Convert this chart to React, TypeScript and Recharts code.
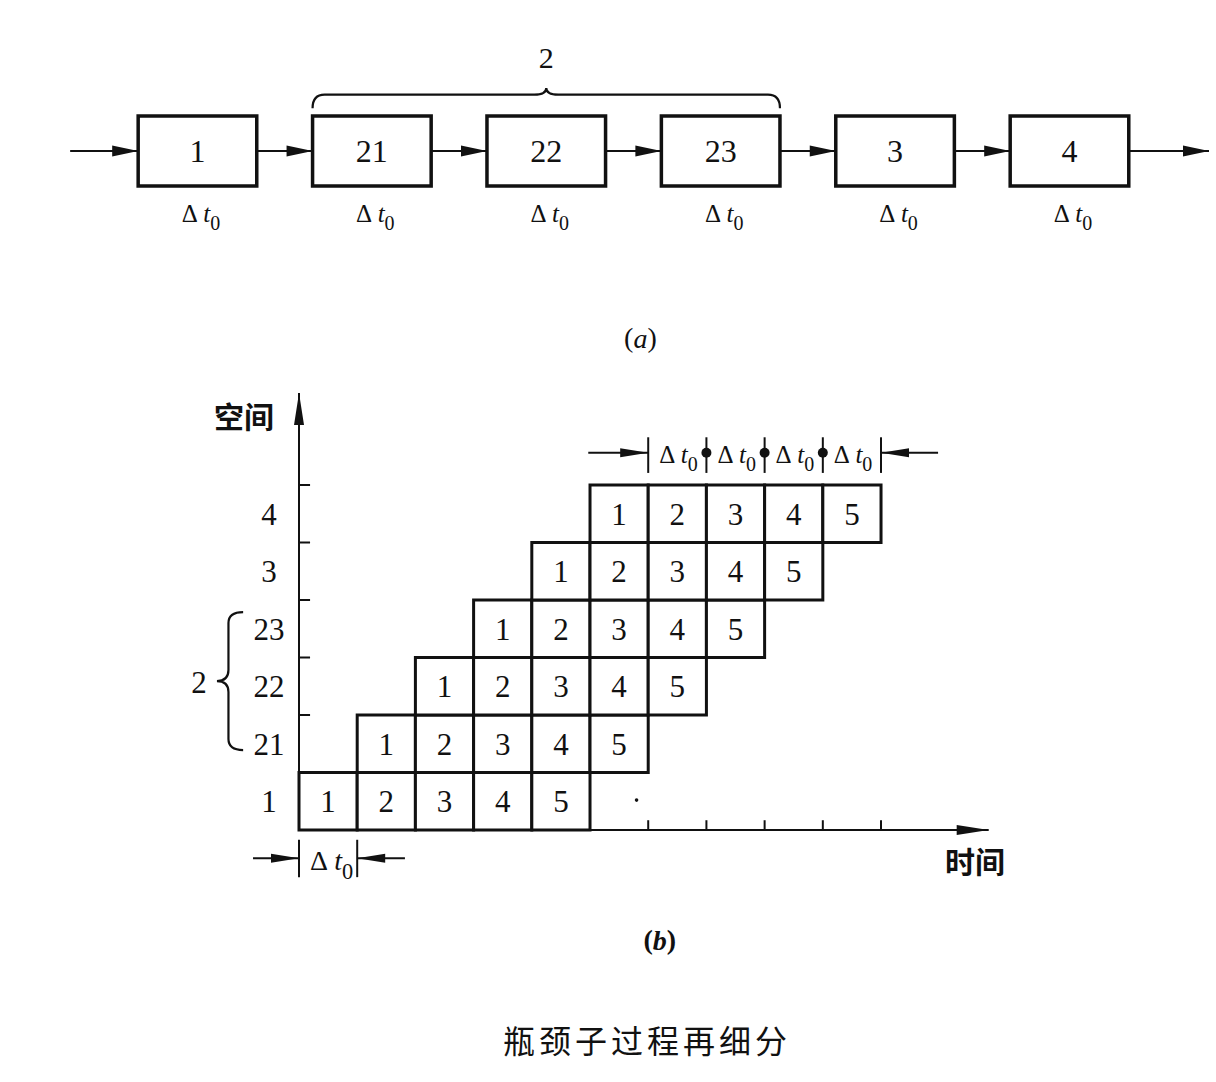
import {
  ComposedChart,
  ReferenceArea,
  ReferenceDot,
  ReferenceLine,
  Scatter,
  XAxis,
  YAxis,
} from "recharts";

const INK = "#111";
const SERIF = '"Liberation Serif", "DejaVu Serif", serif';
const CJK = '"Noto Sans CJK SC", "Noto Sans CJK JP", sans-serif';

// (a) process chain: each box takes one Δt0
const STAGES = ["1", "21", "22", "23", "3", "4"];
const SPLIT_LABEL = "2";
const SPLIT_STAGES = ["21", "22", "23"];

// (b) space-time grid
const ROWS = ["1", "21", "22", "23", "3", "4"];
const ENTRY_SLOT = [0, 1, 2, 3, 4, 5]; // slot where job 1 enters each row
const JOBS = [1, 2, 3, 4, 5];
const OUTPUT_SLOTS = [6, 7, 8, 9, 10]; // completions, ticked on the time axis
const STRAY = [{ x: 5.8, y: 0.52 }];

const STAGE_POINTS = STAGES.map((stage, i) => ({ x: i, y: 0, stage }));
const CELLS = ROWS.flatMap((_, r) =>
  JOBS.map((job, j) => ({ row: r, col: ENTRY_SLOT[r] + j, job }))
);

const HALF_BOX = 0.34;

function Head(p: any) {
  const { cx, cy, dir = "right", len = 26, half = 5.5 } = p;
  let d = "";
  if (dir === "right") d = `M${cx},${cy} L${cx - len},${cy - half} L${cx - len},${cy + half} Z`;
  if (dir === "left") d = `M${cx},${cy} L${cx + len},${cy - half} L${cx + len},${cy + half} Z`;
  if (dir === "up") d = `M${cx},${cy} L${cx - half},${cy + len} L${cx + half},${cy + len} Z`;
  return <path d={d} fill={INK} stroke="none" />;
}

function TextMark(p: any) {
  const { cx, cy, text, size = 30, family = SERIF, weight = 400, spacing = 0 } = p;
  return (
    <text
      x={cx}
      y={cy}
      textAnchor="middle"
      dominantBaseline="central"
      fontFamily={family}
      fontSize={size}
      fontWeight={weight}
      letterSpacing={spacing}
      fill={INK}
    >
      {text}
    </text>
  );
}

function StageLabel(p: any) {
  return <TextMark cx={p.cx} cy={p.cy} text={p.payload?.stage} size={32} />;
}

function PanelTag(p: any) {
  const { cx, cy, letter, weight = 400 } = p;
  return (
    <text x={cx} y={cy} textAnchor="middle" dominantBaseline="central" fontFamily={SERIF} fontSize={28} fontWeight={weight} fill={INK}>
      (<tspan fontStyle="italic">{letter}</tspan>)
    </text>
  );
}

function DeltaMark(p: any) {
  const { cx, cy, size = 24 } = p;
  return (
    <text x={cx} y={cy} textAnchor="middle" fontFamily={SERIF} fontSize={size} fill={INK}>
      Δ
      <tspan dx={size * 0.22} fontStyle="italic">t</tspan>
      <tspan dy={size * 0.32} fontSize={size * 0.8}>0</tspan>
    </text>
  );
}

function HBrace(p: any) {
  const { x, y, width: w, height: h } = p;
  const sy = y + h * 0.33;
  const mid = x + w / 2;
  const r = 12;
  const d = `M${x},${y + h} Q${x},${sy} ${x + r},${sy} L${mid - r},${sy} Q${mid},${sy} ${mid},${y} Q${mid},${sy} ${mid + r},${sy} L${x + w - r},${sy} Q${x + w},${sy} ${x + w},${y + h}`;
  return <path d={d} fill="none" stroke={INK} strokeWidth={2.2} />;
}

function VBrace(p: any) {
  const { x, y, width: w, height: h } = p;
  const sx = x + w * 0.44;
  const mid = y + h / 2;
  const r = 11;
  const d = `M${x + w},${y} Q${sx},${y} ${sx},${y + r} L${sx},${mid - r} Q${sx},${mid} ${x},${mid} Q${sx},${mid} ${sx},${mid + r} L${sx},${y + h - r} Q${sx},${y + h} ${x + w},${y + h}`;
  return <path d={d} fill="none" stroke={INK} strokeWidth={2.2} />;
}

function RowTick(p: any) {
  const { x, y, payload } = p;
  return (
    <text x={x - 30} y={y} dy="0.35em" textAnchor="middle" fontFamily={SERIF} fontSize={31} fill={INK}>
      {ROWS[Math.floor(payload.value)]}
    </text>
  );
}

const line = { stroke: INK, strokeWidth: 2 };

function Arrow({ from, to, y, dir, len, half }: any) {
  return [
    <ReferenceLine key="l" segment={[{ x: from, y }, { x: to, y }]} {...line} ifOverflow="visible" />,
    <ReferenceDot key="h" x={to} y={y} ifOverflow="visible" shape={<Head dir={dir} len={len} half={half} />} />,
  ];
}

function ChainChart() {
  const links = [
    { from: -0.73, to: -HALF_BOX },
    ...STAGES.slice(1).map((_, i) => ({ from: i + HALF_BOX, to: i + 1 - HALF_BOX })),
    { from: STAGES.length - 1 + HALF_BOX, to: 5.8 },
  ];
  const first = STAGES.indexOf(SPLIT_STAGES[0]);
  const last = STAGES.indexOf(SPLIT_STAGES[SPLIT_STAGES.length - 1]);
  return (
    <ComposedChart width={1216} height={380} margin={{ top: 11, right: 7, bottom: 19, left: 40.5 }}>
      <XAxis type="number" dataKey="x" domain={[-0.9, 5.8]} hide />
      <YAxis type="number" dataKey="y" domain={[-3, 2]} hide />
      {STAGES.map((s, i) => (
        <ReferenceArea
          key={s}
          x1={i - HALF_BOX}
          x2={i + HALF_BOX}
          y1={-0.5}
          y2={0.5}
          fill="none"
          fillOpacity={0}
          stroke={INK}
          strokeWidth={3.5}
        />
      ))}
      <Scatter data={STAGE_POINTS} isAnimationActive={false} shape={<StageLabel />} />
      {links.map((l, i) => Arrow({ ...l, y: 0, dir: "right", len: 26, half: 5.5 }).map((el) => ({ ...el, key: `a${i}${el.key}` })))}
      {STAGES.map((s, i) => (
        <ReferenceDot key={`dt${s}`} x={i + 0.02} y={-1.01} shape={<DeltaMark size={25} />} />
      ))}
      <ReferenceArea x1={first - HALF_BOX} x2={last + HALF_BOX} y1={0.61} y2={0.9} shape={<HBrace />} />
      <ReferenceDot x={(first + last) / 2} y={1.33} shape={<TextMark text={SPLIT_LABEL} size={30} />} />
      <ReferenceDot x={2.54} y={-2.67} shape={<PanelTag letter="a" />} />
    </ComposedChart>
  );
}

function SpaceTimeChart() {
  const firstRow = ROWS.indexOf(SPLIT_STAGES[0]);
  const lastRow = ROWS.indexOf(SPLIT_STAGES[SPLIT_STAGES.length - 1]);
  const dimY = 6.56;
  const lowY = -0.49;
  return (
    <ComposedChart width={1216} height={702} margin={{ top: 13, right: 227.3, bottom: 251, left: 259 }}>
      <XAxis
        type="number"
        dataKey="x"
        domain={[0, 11.85]}
        ticks={OUTPUT_SLOTS}
        height={1}
        tick={false}
        tickLine={false}
        axisLine={line}
      />
      <YAxis
        type="number"
        dataKey="y"
        domain={[0, 7.6]}
        ticks={ROWS.map((_, i) => i + 0.5)}
        interval={0}
        width={40}
        tickLine={false}
        tickSize={0}
        tickMargin={0}
        axisLine={line}
        tick={<RowTick />}
      />
      {/* row boundaries on the space axis, output slots on the time axis */}
      {ROWS.map((_, i) => (
        <ReferenceLine key={`rt${i}`} segment={[{ x: 0, y: i + 1 }, { x: 0.19, y: i + 1 }]} {...line} />
      ))}
      {OUTPUT_SLOTS.map((s) => (
        <ReferenceLine key={`xt${s}`} segment={[{ x: s, y: 0 }, { x: s, y: 0.17 }]} {...line} />
      ))}
      {CELLS.map((c) => (
        <ReferenceArea
          key={`c${c.row}-${c.col}`}
          x1={c.col}
          x2={c.col + 1}
          y1={c.row}
          y2={c.row + 1}
          fill="#fff"
          fillOpacity={1}
          stroke={INK}
          strokeWidth={3}
          label={{ value: String(c.job), position: "center", fill: INK, fontSize: 31, fontFamily: SERIF }}
        />
      ))}
      <Scatter data={STRAY} fill={INK} isAnimationActive={false} shape={(p: any) => <circle cx={p.cx} cy={p.cy} r={1.8} fill={INK} />} />

      {/* axis arrowheads */}
      <ReferenceDot x={0} y={7.6} ifOverflow="visible" shape={<Head dir="up" len={32} half={5} />} />
      <ReferenceDot x={11.85} y={0} ifOverflow="visible" shape={<Head dir="right" len={32} half={5} />} />

      {/* output span: four Δt0 */}
      {OUTPUT_SLOTS.map((s) => (
        <ReferenceLine key={`db${s}`} segment={[{ x: s, y: 6.21 }, { x: s, y: 6.83 }]} {...line} />
      ))}
      {OUTPUT_SLOTS.slice(1, -1).map((s) => (
        <ReferenceDot key={`dd${s}`} x={s} y={dimY} r={5} fill={INK} stroke="none" />
      ))}
      {OUTPUT_SLOTS.slice(0, -1).map((s) => (
        <ReferenceDot key={`dl${s}`} x={s + 0.52} y={6.38} shape={<DeltaMark size={25} />} />
      ))}
      {Arrow({ from: 4.97, to: OUTPUT_SLOTS[0], y: dimY, dir: "right", len: 28, half: 4.5 }).map((el) => ({ ...el, key: `tl${el.key}` }))}
      {Arrow({ from: 10.98, to: OUTPUT_SLOTS[OUTPUT_SLOTS.length - 1], y: dimY, dir: "left", len: 28, half: 4.5 }).map((el) => ({ ...el, key: `tr${el.key}` }))}

      {/* one slot: Δt0 */}
      {[0, 1].map((s) => (
        <ReferenceLine key={`lb${s}`} segment={[{ x: s, y: -0.17 }, { x: s, y: -0.82 }]} {...line} ifOverflow="visible" />
      ))}
      <ReferenceDot x={0.56} y={-0.7} ifOverflow="visible" shape={<DeltaMark size={28} />} />
      {Arrow({ from: -0.79, to: 0, y: lowY, dir: "right", len: 28, half: 4.5 }).map((el) => ({ ...el, key: `bl${el.key}` }))}
      {Arrow({ from: 1.82, to: 1, y: lowY, dir: "left", len: 28, half: 4.5 }).map((el) => ({ ...el, key: `br${el.key}` }))}

      {/* split group brace */}
      <ReferenceArea x1={-1.41} x2={-0.96} y1={firstRow + 0.39} y2={lastRow + 0.79} ifOverflow="visible" shape={<VBrace />} />
      <ReferenceDot x={-1.72} y={2.56} ifOverflow="visible" shape={<TextMark text={SPLIT_LABEL} size={31} />} />

      <ReferenceDot x={-0.945} y={7.22} ifOverflow="visible" shape={<TextMark text="空间" size={30} family={CJK} weight={700} />} />
      <ReferenceDot x={11.615} y={-0.515} ifOverflow="visible" shape={<TextMark text="时间" size={30} family={CJK} weight={700} />} />
      <ReferenceDot x={6.2} y={-1.913} ifOverflow="visible" shape={<PanelTag letter="b" weight={700} />} />
      <ReferenceDot x={5.98} y={-3.635} ifOverflow="visible" shape={<TextMark text="瓶颈子过程再细分" size={32} family={CJK} spacing={4} />} />
    </ComposedChart>
  );
}

export default function App() {
  return (
    <div style={{ position: "absolute", left: 0, top: 0, width: 1216, height: 1082, background: "#fff" }}>
      <ChainChart />
      <SpaceTimeChart />
    </div>
  );
}
